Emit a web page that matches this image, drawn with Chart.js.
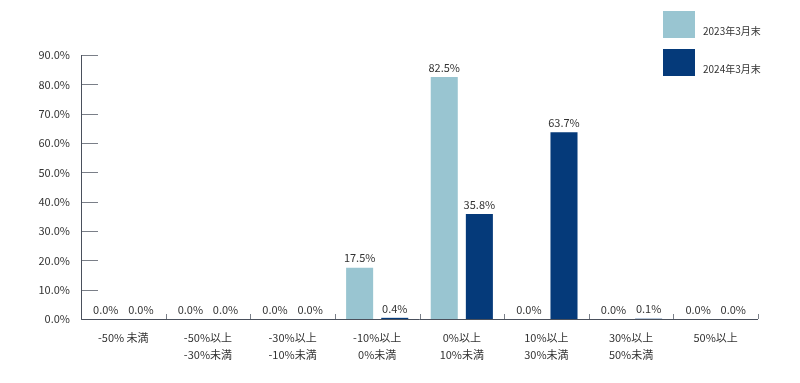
<!DOCTYPE html>
<html>
<head>
<meta charset="utf-8">
<script src="https://cdn.jsdelivr.net/npm/chart.js@4"></script>
<style>
  body { margin: 0; background: #fff; }
  #wrap { position: relative; width: 800px; height: 383px; }
  #legend { position: absolute; left: 663px; top: 11px; font-family: "Noto Sans CJK JP", "Noto Sans", sans-serif; font-size: 10px; color: #333; }
  .item { position: relative; height: 38px; }
  .box { position: absolute; left: 0; top: 0; width: 32px; height: 27px; }
  .lbl { position: absolute; left: 40px; top: 12px; white-space: nowrap; }
</style>
</head>
<body>
<div id="wrap">
  <canvas id="chart" width="800" height="383"></canvas>
  <div id="legend"></div>
</div>
<script>
// カテゴリとデータ
const categories = [
  ['-50% 未満'],
  ['-50%以上', '-30%未満'],
  ['-30%以上', '-10%未満'],
  ['-10%以上', '0%未満'],
  ['0%以上', '10%未満'],
  ['10%以上', '30%未満'],
  ['30%以上', '50%未満'],
  ['50%以上']
];
const seriesNames = ['2023年3月末', '2024年3月末'];
const values2023 = [0.0, 0.0, 0.0, 17.5, 82.5, 0.0, 0.0, 0.0];
const values2024 = [0.0, 0.0, 0.0, 0.4, 35.8, 63.7, 0.1, 0.0];
const colors = ['#99C5D1', '#053A7A'];
const yTicks = [0, 10, 20, 30, 40, 50, 60, 70, 80, 90];

const fontFamily = '"Noto Sans CJK JP", "Noto Sans", sans-serif';

// 凡例
const legend = document.getElementById('legend');
seriesNames.forEach(function(name, i) {
  const item = document.createElement('div');
  item.className = 'item';
  item.innerHTML = '<div class="box" style="background:' + colors[i] + '"></div><div class="lbl">' + name + '</div>';
  legend.appendChild(item);
});

// 軸と目盛り線を描く
const axisPlugin = {
  id: 'axisLines',
  afterDraw(chart) {
    const ctx = chart.ctx;
    const area = chart.chartArea;
    const x = chart.scales.x;
    const y = chart.scales.y;
    ctx.save();
    ctx.lineWidth = 1;
    ctx.strokeStyle = '#7a7f88';
    yTicks.forEach(function(v) {
      const py = Math.round(y.getPixelForValue(v)) + 0.5;
      ctx.beginPath();
      ctx.moveTo(area.left, py);
      ctx.lineTo(area.left + 17, py);
      ctx.stroke();
    });
    for (let i = 0; i <= categories.length; i++) {
      const px = Math.round(x.getPixelForValue(i - 0.5)) + 0.5;
      ctx.beginPath();
      ctx.moveTo(px, area.bottom);
      ctx.lineTo(px, area.bottom - 5);
      ctx.stroke();
    }
    ctx.strokeStyle = '#4a505c';
    ctx.beginPath();
    ctx.moveTo(area.left + 0.5, area.top);
    ctx.lineTo(area.left + 0.5, area.bottom + 0.5);
    ctx.lineTo(area.right, area.bottom + 0.5);
    ctx.stroke();
    ctx.restore();
  }
};

// バーの上に値を表示
const labelPlugin = {
  id: 'valueLabels',
  afterDatasetsDraw(chart) {
    const ctx = chart.ctx;
    ctx.save();
    ctx.font = '11px ' + fontFamily;
    ctx.fillStyle = '#333';
    ctx.textAlign = 'center';
    ctx.textBaseline = 'bottom';
    chart.data.datasets.forEach(function(ds, di) {
      chart.getDatasetMeta(di).data.forEach(function(bar, i) {
        ctx.fillText(ds.data[i].toFixed(1) + '%', bar.x, bar.y - 4);
      });
    });
    ctx.restore();
  }
};

const ctx = document.getElementById('chart').getContext('2d');
const chart = new Chart(ctx, {
  type: 'bar',
  data: {
    labels: categories,
    datasets: [
      { label: seriesNames[0], data: values2023, backgroundColor: colors[0] },
      { label: seriesNames[1], data: values2024, backgroundColor: colors[1] }
    ]
  },
  options: {
    responsive: false,
    animation: false,
    layout: { padding: { top: 55, right: 42, left: 0, bottom: 0 } },
    datasets: { bar: { categoryPercentage: 0.83, barPercentage: 0.77 } },
    plugins: { legend: { display: false }, tooltip: { enabled: false } },
    scales: {
      x: {
        grid: { display: false, drawTicks: false },
        border: { display: false },
        ticks: {
          color: '#333',
          font: { size: 11, family: fontFamily, lineHeight: 1.55 },
          padding: 10,
          maxRotation: 0,
          autoSkip: false
        },
        afterFit(scale) { scale.height = 64; }
      },
      y: {
        min: 0,
        max: 90,
        grid: { display: false, drawTicks: false },
        border: { display: false },
        afterBuildTicks(scale) { scale.ticks = yTicks.map(function(v) { return { value: v }; }); },
        ticks: {
          color: '#333',
          font: { size: 11, family: fontFamily },
          padding: 11,
          callback: function(v) { return v.toFixed(1) + '%'; }
        },
        afterFit(scale) { scale.width = 81; }
      }
    }
  },
  plugins: [axisPlugin, labelPlugin]
});
</script>
</body>
</html>
